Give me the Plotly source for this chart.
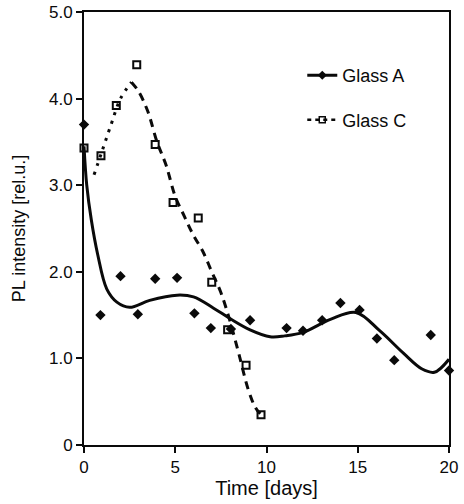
import plotly.graph_objects as go

# Measured points
glass_a_x = [0, 0.9, 2.0, 2.95, 3.9, 5.1, 6.05, 6.95, 8.05, 9.1, 11.1, 12.0, 13.05, 14.05, 15.1, 16.05, 17.0, 19.0, 20.0]
glass_a_y = [3.70, 1.50, 1.95, 1.51, 1.92, 1.93, 1.52, 1.35, 1.34, 1.44, 1.35, 1.32, 1.44, 1.64, 1.56, 1.23, 0.98, 1.27, 0.86]

glass_c_x = [0, 0.93, 1.77, 2.89, 3.9, 4.88, 6.26, 7.0, 7.87, 8.88, 9.7]
glass_c_y = [3.43, 3.34, 3.92, 4.39, 3.47, 2.80, 2.62, 1.88, 1.33, 0.92, 0.35]

# Fitted / smoothed curves
fit_a_x = [0, 0.15, 0.4, 0.75, 1.25, 1.8, 2.5, 3.6, 5.1, 6.0, 7.1, 8.0, 9.1, 10.2, 11.0, 12.0, 13.5, 14.9, 16.2, 17.5, 18.5, 19.2, 20.0]
fit_a_y = [3.45, 3.0, 2.6, 2.2, 1.80, 1.65, 1.59, 1.67, 1.73, 1.71, 1.58, 1.46, 1.33, 1.25, 1.26, 1.30, 1.45, 1.53, 1.32, 1.06, 0.88, 0.84, 0.99]

fit_c_rise_x = [0.55, 1.0, 1.5, 2.0, 2.6]
fit_c_rise_y = [3.12, 3.40, 3.71, 4.00, 4.19]
fit_c_fall_x = [2.6, 3.0, 3.5, 4.0, 4.5, 5.0, 5.5, 6.0, 6.5, 7.0, 7.5, 8.0, 8.5, 9.0, 9.4, 9.7]
fit_c_fall_y = [4.19, 4.08, 3.85, 3.50, 3.23, 2.87, 2.64, 2.42, 2.24, 2.00, 1.76, 1.43, 1.04, 0.64, 0.43, 0.35]

x_ticks = [0, 5, 10, 15, 20]
y_ticks = [0, 1, 2, 3, 4, 5]
y_tick_labels = ["0", "1.0", "2.0", "3.0", "4.0", "5.0"]

FONT = "Liberation Sans, Arial, sans-serif"
INK = "#0a0a0a"

fig = go.Figure()

# Glass C curve (dotted rise, dashed fall)
fig.add_trace(go.Scatter(x=fit_c_rise_x, y=fit_c_rise_y, mode="lines", line=dict(color=INK, width=3, dash="3px,6px", shape="spline"),
                         showlegend=False, hoverinfo="skip"))
fig.add_trace(go.Scatter(x=fit_c_fall_x, y=fit_c_fall_y, mode="lines", line=dict(color=INK, width=3, dash="8px,6px", shape="spline"),
                         showlegend=False, hoverinfo="skip"))
fig.add_trace(go.Scatter(x=glass_c_x, y=glass_c_y, mode="markers",
                         marker=dict(symbol="square-open", size=7, color=INK, line=dict(width=2, color=INK)),
                         showlegend=False, cliponaxis=False))

# Glass A curve and points
fig.add_trace(go.Scatter(x=fit_a_x, y=fit_a_y, mode="lines", line=dict(color=INK, width=3, shape="spline"),
                         showlegend=False, hoverinfo="skip", cliponaxis=False))
fig.add_trace(go.Scatter(x=glass_a_x, y=glass_a_y, mode="markers",
                         marker=dict(symbol="diamond", size=8, color=INK),
                         showlegend=False, cliponaxis=False))

# Legend entries
fig.add_trace(go.Scatter(x=[None], y=[None], mode="lines+markers", name="Glass A", legendgroup="a",
                         line=dict(color=INK, width=3), marker=dict(symbol="diamond", size=7, color=INK)))
fig.add_trace(go.Scatter(x=[None], y=[None], mode="lines+markers", name="Glass C", legendgroup="c",
                         line=dict(color=INK, width=2.5, dash="4px,4px"),
                         marker=dict(symbol="square-open", size=6, color=INK, line=dict(width=1.5, color=INK))))

fig.update_layout(
    width=464, height=504,
    margin=dict(l=84, r=15, t=12, b=59),
    paper_bgcolor="white", plot_bgcolor="white",
    font=dict(family=FONT, color=INK, size=16),
    legend=dict(x=0.598, y=0.896, xanchor="left", yanchor="top", font=dict(size=18),
                tracegroupgap=18, bgcolor="rgba(0,0,0,0)"),
)
fig.update_xaxes(range=[0, 20], tickvals=x_ticks, ticks="outside", ticklen=6, tickwidth=2, tickcolor=INK,
                 showline=True, linewidth=2, linecolor=INK, mirror=True, showgrid=False, zeroline=False,
                 tickfont=dict(size=17), automargin=False, ticklabeloverflow="allow",
                 title=dict(text="Time [days]", font=dict(size=20), standoff=4))
fig.update_yaxes(range=[0, 5], tickvals=y_ticks, ticktext=y_tick_labels, ticks="outside", ticklen=6, tickwidth=2,
                 tickcolor=INK, showline=True, linewidth=2, linecolor=INK, mirror=True, showgrid=False, zeroline=False,
                 tickfont=dict(size=17), automargin=False, ticklabelstandoff=0, ticklabeloverflow="allow",
                 title=dict(text="PL intensity [rel.u.]", font=dict(size=18), standoff=19))

# remove the default page margin so the figure fills the window exactly
fig.write_html("out.html", config={"displayModeBar": False},
               post_script="document.body.style.margin='0';")
